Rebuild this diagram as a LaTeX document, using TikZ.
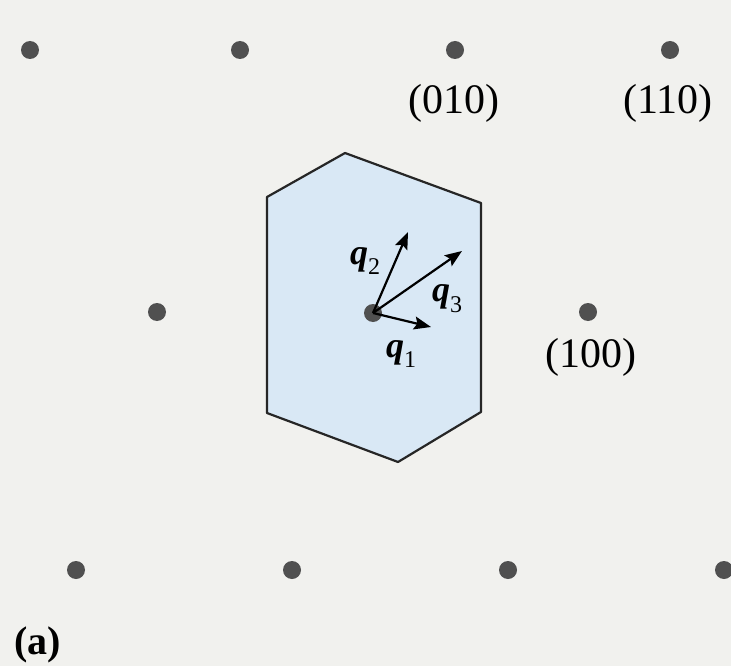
\documentclass[tikz,border=0pt]{standalone}
\usepackage{fontspec}
\setmainfont{Liberation Serif}
\usetikzlibrary{arrows.meta}
\definecolor{bg}{HTML}{F1F1EE}
\definecolor{zone}{HTML}{D9E8F5}
\definecolor{dotc}{HTML}{505050}
\newcommand{\qv}[1]{{\bfseries\itshape q}\raisebox{-0.3em}{\fontsize{24}{26}\selectfont #1}}
\tikzset{
  site/.style={circle, fill=dotc, inner sep=0pt, minimum size=18pt},
  lbl/.style={font=\fontsize{42}{46}\selectfont, inner sep=0pt},
  qlbl/.style={font=\fontsize{36}{40}\selectfont, inner sep=0pt},
  vec/.style={line width=2.2pt, -{Stealth[length=17pt,width=13pt,inset=3pt]}},
  bz/.style={draw=black!85, line width=2.2pt, fill=zone, line join=round}
}
\begin{document}
\begin{tikzpicture}[x=1pt,y=-1pt]
\fill[bg] (0,0) rectangle (731,666);
\useasboundingbox (0,0) rectangle (731,666);
% Brillouin zone
\draw[bz] (345,153) -- (481,203) -- (481,412) -- (398,462) -- (267,413) -- (267,197) -- cycle;
% lattice sites
\node[site] (s1) at (30,50) {};
\node[site] (s2) at (240,50) {};
\node[site] (s3) at (455,50) {};
\node[site] (s4) at (670,50) {};
\node[site] (m1) at (157,312) {};
\node[site] (c) at (373,313) {};
\node[site] (m3) at (588,312) {};
\node[site] (b1) at (76,570) {};
\node[site] (b2) at (292,570) {};
\node[site] (b3) at (508,570) {};
\node[site] (b4) at (724,570) {};
% vectors
\coordinate (t1) at (431,327);
\coordinate (t2) at (408,232);
\coordinate (t3) at (462,251);
\draw[vec] (c.center) -- (t1);
\draw[vec] (c.center) -- (t2);
\draw[vec] (c.center) -- (t3);
\node[qlbl] (q1) at (401,354) {\qv{1}};
\node[qlbl] (q2) at (365,261) {\qv{2}};
\node[qlbl] (q3) at (447,299) {\qv{3}};
% labels
\node[lbl] (l010) at (454,103) {(010)};
\node[lbl] (l110) at (668,103) {(110)};
\node[lbl] (l100) at (591,357) {(100)};
\node[lbl, font=\fontsize{40}{44}\selectfont\bfseries] (la) at (38,645) {(a)};
\end{tikzpicture}
\end{document}
